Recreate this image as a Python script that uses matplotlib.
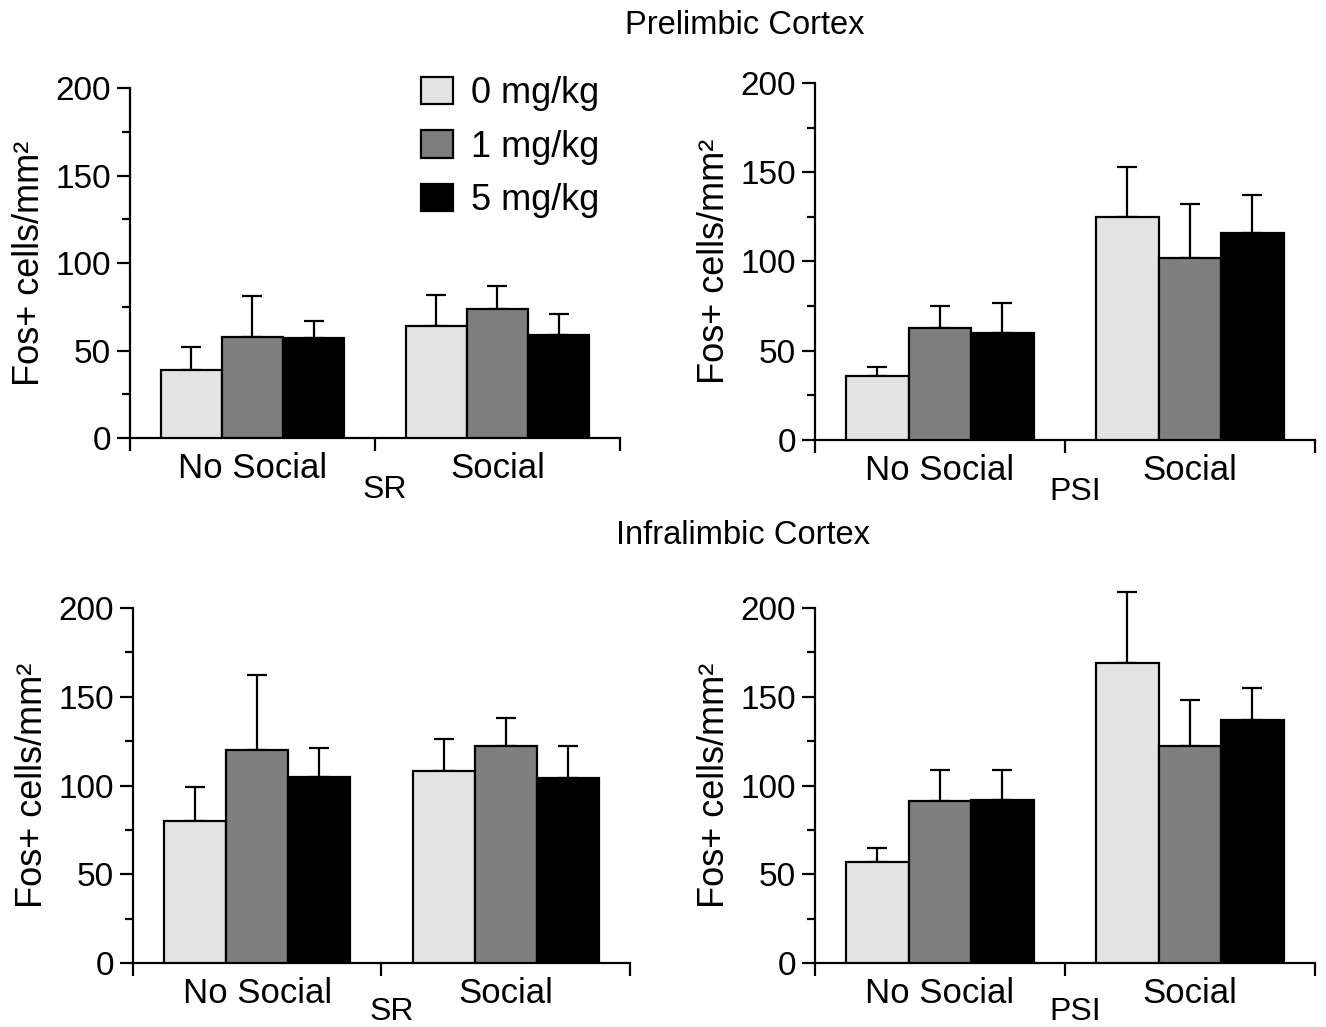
import matplotlib
matplotlib.use("Agg")
import matplotlib.pyplot as plt
from matplotlib.patches import Patch
import numpy as np

plt.rcParams['font.family'] = ['Liberation Sans', 'DejaVu Sans']

groups = ['No Social', 'Social']
doses = ['0 mg/kg', '1 mg/kg', '5 mg/kg']
dose_colors = ['#e3e3e3', '#7f7f7f', '#000000']

# mean values, rows = dose, cols = group (No Social, Social)
pl_sr_mean = [[39, 64], [58, 74], [57, 59]]
pl_sr_err = [[13, 18], [23, 13], [10, 12]]
pl_psi_mean = [[36, 125], [63, 102], [60, 116]]
pl_psi_err = [[5, 28], [12, 30], [17, 21]]
il_sr_mean = [[80, 108], [120, 122], [105, 104]]
il_sr_err = [[19, 18], [42, 16], [16, 18]]
il_psi_mean = [[57, 169], [91, 122], [92, 137]]
il_psi_err = [[8, 40], [18, 26], [17, 18]]

panels = [
    (pl_sr_mean, pl_sr_err, 'SR', [0.098, 0.5735, 0.3695, 0.3408], -0.105),
    (pl_psi_mean, pl_psi_err, 'PSI', [0.6146, 0.5716, 0.377, 0.3476], -0.105),
    (il_sr_mean, il_sr_err, 'SR', [0.1003, 0.0623, 0.3748, 0.3457], -0.095),
    (il_psi_mean, il_psi_err, 'PSI', [0.6146, 0.0623, 0.377, 0.3457], -0.095),
]

fig = plt.figure(figsize=(13.26, 10.27), dpi=100)

bar_w = 0.25
x = np.array([0.5, 1.5])
axes = []
for means, errs, xlab, rect, lab_y in panels:
    ax = fig.add_axes(rect)
    for i in range(3):
        xi = x + (i - 1) * bar_w
        ax.bar(xi, means[i], bar_w, color=dose_colors[i], edgecolor='black',
               linewidth=1.6, zorder=3)
        ax.errorbar(xi, means[i], yerr=[np.zeros(2), errs[i]], fmt='none',
                    ecolor='black', elinewidth=1.6, capsize=7.5, capthick=1.6,
                    zorder=2, clip_on=False)
    ax.set_xlim(0, 2)
    ax.set_ylim(0, 200)
    for s in ['top', 'right']:
        ax.spines[s].set_visible(False)
    for s in ['left', 'bottom']:
        ax.spines[s].set_linewidth(1.6)
    ax.set_yticks([0, 50, 100, 150, 200])
    ax.set_yticks([25, 75, 125, 175], minor=True)
    ax.tick_params(axis='y', which='major', length=9.5, width=1.6, labelsize=24, pad=4)
    ax.tick_params(axis='y', which='minor', length=5.5, width=1.6)
    ax.set_xticks([0, 1, 2])
    ax.set_xticklabels([])
    ax.set_xticks(x, minor=True)
    ax.set_xticklabels(groups, minor=True)
    ax.tick_params(axis='x', which='major', length=9.5, width=1.6)
    ax.tick_params(axis='x', which='minor', length=0, labelsize=25, pad=10)
    ax.set_ylabel('Fos+ cells/mm²', fontsize=26, labelpad=6)
    ax.set_xlabel(xlab, fontsize=23)
    ax.xaxis.set_label_coords(0.52, lab_y)
    axes.append(ax)

handles = [Patch(facecolor=c, edgecolor='black', linewidth=1.6) for c in dose_colors]
axes[0].legend(handles, doses, loc='upper left', bbox_to_anchor=(0.594, 1.035),
               frameon=False, fontsize=26, handlelength=0.88, handleheight=0.78,
               handletextpad=0.5, labelspacing=0.52, borderpad=0, borderaxespad=0)

fig.text(0.562, 0.975, 'Prelimbic Cortex', fontsize=23.5, ha='center', va='center')
fig.text(0.560, 0.479, 'Infralimbic Cortex', fontsize=23.5, ha='center', va='center')

fig.savefig('out.png', dpi=100)
